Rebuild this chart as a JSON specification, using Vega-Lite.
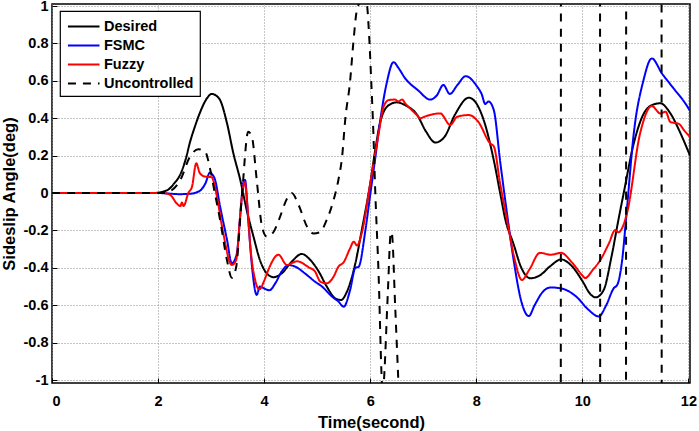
{
  "$schema": "https://vega.github.io/schema/vega-lite/v6.json",
  "description": "Sideslip angle response: Desired, FSMC, Fuzzy and Uncontrolled.",
  "width": 638,
  "height": 379,
  "autosize": "none",
  "padding": {"left": 52, "top": 4, "right": 9, "bottom": 48},
  "background": "white",
  "config": {
    "view": {"stroke": "black", "strokeWidth": 1.5},
    "font": "Liberation Sans",
    "legend": {
      "strokeColor": "black",
      "strokeWidth": 1.2,
      "fillColor": "white",
      "padding": 6,
      "rowPadding": 3,
      "labelOffset": 19,
      "symbolType": "M-0.91,0L2.89,0",
      "symbolSize": 276,
      "symbolStrokeWidth": 2,
      "labelFontSize": 14.5,
      "labelFontWeight": "bold",
      "labelColor": "black"
    }
  },
  "data": {
    "values": [
      {"s":"Desired","t":0,"v":0},{"s":"Desired","t":1.9,"v":0},{"s":"Desired","t":2.0,"v":0.002},{"s":"Desired","t":2.1,"v":0.008},{"s":"Desired","t":2.2,"v":0.02},{"s":"Desired","t":2.3,"v":0.05},{"s":"Desired","t":2.42,"v":0.1},{"s":"Desired","t":2.52,"v":0.18},{"s":"Desired","t":2.6,"v":0.27},{"s":"Desired","t":2.7,"v":0.36},{"s":"Desired","t":2.79,"v":0.43},{"s":"Desired","t":2.92,"v":0.506},{"s":"Desired","t":3.01,"v":0.53},{"s":"Desired","t":3.1,"v":0.52},{"s":"Desired","t":3.17,"v":0.497},{"s":"Desired","t":3.3,"v":0.373},{"s":"Desired","t":3.42,"v":0.212},{"s":"Desired","t":3.55,"v":0.07},{"s":"Desired","t":3.67,"v":-0.09},{"s":"Desired","t":3.8,"v":-0.234},{"s":"Desired","t":3.92,"v":-0.358},{"s":"Desired","t":4.05,"v":-0.43},{"s":"Desired","t":4.18,"v":-0.45},{"s":"Desired","t":4.33,"v":-0.43},{"s":"Desired","t":4.52,"v":-0.367},{"s":"Desired","t":4.71,"v":-0.326},{"s":"Desired","t":4.87,"v":-0.358},{"s":"Desired","t":5.03,"v":-0.42},{"s":"Desired","t":5.18,"v":-0.5},{"s":"Desired","t":5.34,"v":-0.563},{"s":"Desired","t":5.45,"v":-0.572},{"s":"Desired","t":5.56,"v":-0.528},{"s":"Desired","t":5.72,"v":-0.376},{"s":"Desired","t":5.84,"v":-0.2},{"s":"Desired","t":6.0,"v":0.05},{"s":"Desired","t":6.1,"v":0.24},{"s":"Desired","t":6.19,"v":0.38},{"s":"Desired","t":6.35,"v":0.47},{"s":"Desired","t":6.5,"v":0.485},{"s":"Desired","t":6.66,"v":0.47},{"s":"Desired","t":6.88,"v":0.42},{"s":"Desired","t":7.05,"v":0.33},{"s":"Desired","t":7.23,"v":0.27},{"s":"Desired","t":7.4,"v":0.3},{"s":"Desired","t":7.6,"v":0.42},{"s":"Desired","t":7.86,"v":0.51},{"s":"Desired","t":8.0,"v":0.48},{"s":"Desired","t":8.14,"v":0.39},{"s":"Desired","t":8.33,"v":0.176},{"s":"Desired","t":8.45,"v":0.0},{"s":"Desired","t":8.55,"v":-0.144},{"s":"Desired","t":8.7,"v":-0.27},{"s":"Desired","t":8.85,"v":-0.4},{"s":"Desired","t":9.02,"v":-0.456},{"s":"Desired","t":9.2,"v":-0.44},{"s":"Desired","t":9.4,"v":-0.39},{"s":"Desired","t":9.6,"v":-0.355},{"s":"Desired","t":9.8,"v":-0.39},{"s":"Desired","t":10.0,"v":-0.47},{"s":"Desired","t":10.15,"v":-0.54},{"s":"Desired","t":10.25,"v":-0.558},{"s":"Desired","t":10.4,"v":-0.52},{"s":"Desired","t":10.55,"v":-0.34},{"s":"Desired","t":10.68,"v":-0.144},{"s":"Desired","t":10.78,"v":0.0},{"s":"Desired","t":10.97,"v":0.266},{"s":"Desired","t":11.16,"v":0.426},{"s":"Desired","t":11.31,"v":0.47},{"s":"Desired","t":11.47,"v":0.48},{"s":"Desired","t":11.66,"v":0.426},{"s":"Desired","t":11.85,"v":0.32},{"s":"Desired","t":12.03,"v":0.2},

      {"s":"FSMC","t":0,"v":0},{"s":"FSMC","t":2.0,"v":0},{"s":"FSMC","t":2.2,"v":-0.003},{"s":"FSMC","t":2.4,"v":-0.006},{"s":"FSMC","t":2.6,"v":-0.004},{"s":"FSMC","t":2.73,"v":0.004},{"s":"FSMC","t":2.82,"v":0.02},{"s":"FSMC","t":2.89,"v":0.05},{"s":"FSMC","t":2.98,"v":0.11},{"s":"FSMC","t":3.02,"v":0.1},{"s":"FSMC","t":3.07,"v":0.075},{"s":"FSMC","t":3.17,"v":-0.073},{"s":"FSMC","t":3.3,"v":-0.25},{"s":"FSMC","t":3.39,"v":-0.376},{"s":"FSMC","t":3.48,"v":-0.33},{"s":"FSMC","t":3.55,"v":-0.12},{"s":"FSMC","t":3.61,"v":0.06},{"s":"FSMC","t":3.64,"v":0.07},{"s":"FSMC","t":3.7,"v":-0.144},{"s":"FSMC","t":3.77,"v":-0.39},{"s":"FSMC","t":3.86,"v":-0.545},{"s":"FSMC","t":3.92,"v":-0.5},{"s":"FSMC","t":4.0,"v":-0.51},{"s":"FSMC","t":4.1,"v":-0.52},{"s":"FSMC","t":4.21,"v":-0.483},{"s":"FSMC","t":4.33,"v":-0.42},{"s":"FSMC","t":4.46,"v":-0.385},{"s":"FSMC","t":4.59,"v":-0.394},{"s":"FSMC","t":4.77,"v":-0.43},{"s":"FSMC","t":4.96,"v":-0.474},{"s":"FSMC","t":5.09,"v":-0.5},{"s":"FSMC","t":5.28,"v":-0.554},{"s":"FSMC","t":5.4,"v":-0.58},{"s":"FSMC","t":5.5,"v":-0.608},{"s":"FSMC","t":5.62,"v":-0.52},{"s":"FSMC","t":5.72,"v":-0.4},{"s":"FSMC","t":5.78,"v":-0.395},{"s":"FSMC","t":5.91,"v":-0.198},{"s":"FSMC","t":6.0,"v":-0.01},{"s":"FSMC","t":6.09,"v":0.176},{"s":"FSMC","t":6.19,"v":0.39},{"s":"FSMC","t":6.31,"v":0.587},{"s":"FSMC","t":6.44,"v":0.7},{"s":"FSMC","t":6.53,"v":0.67},{"s":"FSMC","t":6.66,"v":0.613},{"s":"FSMC","t":6.9,"v":0.55},{"s":"FSMC","t":7.13,"v":0.5},{"s":"FSMC","t":7.25,"v":0.52},{"s":"FSMC","t":7.38,"v":0.578},{"s":"FSMC","t":7.5,"v":0.53},{"s":"FSMC","t":7.65,"v":0.58},{"s":"FSMC","t":7.8,"v":0.625},{"s":"FSMC","t":8.01,"v":0.572},{"s":"FSMC","t":8.1,"v":0.53},{"s":"FSMC","t":8.17,"v":0.476},{"s":"FSMC","t":8.23,"v":0.49},{"s":"FSMC","t":8.33,"v":0.444},{"s":"FSMC","t":8.45,"v":0.17},{"s":"FSMC","t":8.58,"v":-0.11},{"s":"FSMC","t":8.7,"v":-0.35},{"s":"FSMC","t":8.85,"v":-0.58},{"s":"FSMC","t":8.99,"v":-0.658},{"s":"FSMC","t":9.1,"v":-0.6},{"s":"FSMC","t":9.25,"v":-0.53},{"s":"FSMC","t":9.4,"v":-0.505},{"s":"FSMC","t":9.6,"v":-0.51},{"s":"FSMC","t":9.9,"v":-0.558},{"s":"FSMC","t":10.1,"v":-0.62},{"s":"FSMC","t":10.31,"v":-0.66},{"s":"FSMC","t":10.45,"v":-0.6},{"s":"FSMC","t":10.59,"v":-0.51},{"s":"FSMC","t":10.66,"v":-0.49},{"s":"FSMC","t":10.75,"v":-0.36},{"s":"FSMC","t":10.83,"v":-0.12},{"s":"FSMC","t":10.97,"v":0.32},{"s":"FSMC","t":11.15,"v":0.6},{"s":"FSMC","t":11.31,"v":0.72},{"s":"FSMC","t":11.5,"v":0.64},{"s":"FSMC","t":11.72,"v":0.56},{"s":"FSMC","t":11.94,"v":0.48},{"s":"FSMC","t":12.03,"v":0.44},

      {"s":"Fuzzy","t":0,"v":0},{"s":"Fuzzy","t":2.1,"v":0},{"s":"Fuzzy","t":2.23,"v":-0.01},{"s":"Fuzzy","t":2.35,"v":-0.055},{"s":"Fuzzy","t":2.42,"v":-0.07},{"s":"Fuzzy","t":2.45,"v":-0.05},{"s":"Fuzzy","t":2.48,"v":-0.07},{"s":"Fuzzy","t":2.57,"v":0.0},{"s":"Fuzzy","t":2.64,"v":0.034},{"s":"Fuzzy","t":2.72,"v":0.159},{"s":"Fuzzy","t":2.79,"v":0.105},{"s":"Fuzzy","t":2.89,"v":0.088},{"s":"Fuzzy","t":3.01,"v":0.085},{"s":"Fuzzy","t":3.05,"v":0.06},{"s":"Fuzzy","t":3.11,"v":-0.02},{"s":"Fuzzy","t":3.23,"v":-0.216},{"s":"Fuzzy","t":3.39,"v":-0.385},{"s":"Fuzzy","t":3.47,"v":-0.36},{"s":"Fuzzy","t":3.58,"v":-0.02},{"s":"Fuzzy","t":3.63,"v":0.06},{"s":"Fuzzy","t":3.68,"v":-0.05},{"s":"Fuzzy","t":3.74,"v":-0.287},{"s":"Fuzzy","t":3.83,"v":-0.465},{"s":"Fuzzy","t":3.91,"v":-0.515},{"s":"Fuzzy","t":4.0,"v":-0.47},{"s":"Fuzzy","t":4.08,"v":-0.41},{"s":"Fuzzy","t":4.27,"v":-0.33},{"s":"Fuzzy","t":4.43,"v":-0.385},{"s":"Fuzzy","t":4.56,"v":-0.37},{"s":"Fuzzy","t":4.62,"v":-0.365},{"s":"Fuzzy","t":4.84,"v":-0.397},{"s":"Fuzzy","t":4.96,"v":-0.42},{"s":"Fuzzy","t":5.06,"v":-0.474},{"s":"Fuzzy","t":5.18,"v":-0.483},{"s":"Fuzzy","t":5.31,"v":-0.447},{"s":"Fuzzy","t":5.4,"v":-0.394},{"s":"Fuzzy","t":5.5,"v":-0.37},{"s":"Fuzzy","t":5.62,"v":-0.296},{"s":"Fuzzy","t":5.69,"v":-0.26},{"s":"Fuzzy","t":5.75,"v":-0.28},{"s":"Fuzzy","t":5.84,"v":-0.216},{"s":"Fuzzy","t":6.0,"v":0.05},{"s":"Fuzzy","t":6.16,"v":0.32},{"s":"Fuzzy","t":6.25,"v":0.46},{"s":"Fuzzy","t":6.35,"v":0.497},{"s":"Fuzzy","t":6.47,"v":0.5},{"s":"Fuzzy","t":6.53,"v":0.49},{"s":"Fuzzy","t":6.6,"v":0.5},{"s":"Fuzzy","t":6.66,"v":0.48},{"s":"Fuzzy","t":6.88,"v":0.417},{"s":"Fuzzy","t":6.94,"v":0.4},{"s":"Fuzzy","t":7.04,"v":0.41},{"s":"Fuzzy","t":7.32,"v":0.426},{"s":"Fuzzy","t":7.51,"v":0.364},{"s":"Fuzzy","t":7.64,"v":0.408},{"s":"Fuzzy","t":7.86,"v":0.417},{"s":"Fuzzy","t":8.04,"v":0.38},{"s":"Fuzzy","t":8.26,"v":0.266},{"s":"Fuzzy","t":8.33,"v":0.25},{"s":"Fuzzy","t":8.45,"v":0.05},{"s":"Fuzzy","t":8.58,"v":-0.144},{"s":"Fuzzy","t":8.72,"v":-0.35},{"s":"Fuzzy","t":8.86,"v":-0.465},{"s":"Fuzzy","t":9.0,"v":-0.41},{"s":"Fuzzy","t":9.2,"v":-0.32},{"s":"Fuzzy","t":9.4,"v":-0.33},{"s":"Fuzzy","t":9.6,"v":-0.32},{"s":"Fuzzy","t":9.8,"v":-0.37},{"s":"Fuzzy","t":10.02,"v":-0.447},{"s":"Fuzzy","t":10.05,"v":-0.455},{"s":"Fuzzy","t":10.2,"v":-0.41},{"s":"Fuzzy","t":10.34,"v":-0.358},{"s":"Fuzzy","t":10.5,"v":-0.27},{"s":"Fuzzy","t":10.62,"v":-0.198},{"s":"Fuzzy","t":10.68,"v":-0.21},{"s":"Fuzzy","t":10.84,"v":-0.11},{"s":"Fuzzy","t":11.09,"v":0.32},{"s":"Fuzzy","t":11.31,"v":0.465},{"s":"Fuzzy","t":11.47,"v":0.426},{"s":"Fuzzy","t":11.57,"v":0.435},{"s":"Fuzzy","t":11.66,"v":0.38},{"s":"Fuzzy","t":11.82,"v":0.37},{"s":"Fuzzy","t":11.92,"v":0.335},{"s":"Fuzzy","t":12.03,"v":0.3},

      {"s":"Uncontrolled","t":0,"v":0},{"s":"Uncontrolled","t":2.1,"v":0},{"s":"Uncontrolled","t":2.23,"v":0.01},{"s":"Uncontrolled","t":2.42,"v":0.07},{"s":"Uncontrolled","t":2.6,"v":0.194},{"s":"Uncontrolled","t":2.76,"v":0.234},{"s":"Uncontrolled","t":2.89,"v":0.22},{"s":"Uncontrolled","t":2.98,"v":0.13},{"s":"Uncontrolled","t":3.07,"v":0.0},{"s":"Uncontrolled","t":3.17,"v":-0.144},{"s":"Uncontrolled","t":3.3,"v":-0.36},{"s":"Uncontrolled","t":3.39,"v":-0.453},{"s":"Uncontrolled","t":3.47,"v":-0.4},{"s":"Uncontrolled","t":3.58,"v":-0.02},{"s":"Uncontrolled","t":3.7,"v":0.328},{"s":"Uncontrolled","t":3.77,"v":0.3},{"s":"Uncontrolled","t":3.86,"v":0.07},{"s":"Uncontrolled","t":3.96,"v":-0.18},{"s":"Uncontrolled","t":4.05,"v":-0.233},{"s":"Uncontrolled","t":4.18,"v":-0.207},{"s":"Uncontrolled","t":4.3,"v":-0.127},{"s":"Uncontrolled","t":4.43,"v":-0.03},{"s":"Uncontrolled","t":4.52,"v":0.0},{"s":"Uncontrolled","t":4.65,"v":-0.064},{"s":"Uncontrolled","t":4.81,"v":-0.18},{"s":"Uncontrolled","t":4.93,"v":-0.216},{"s":"Uncontrolled","t":5.05,"v":-0.21},{"s":"Uncontrolled","t":5.18,"v":-0.144},{"s":"Uncontrolled","t":5.31,"v":-0.037},{"s":"Uncontrolled","t":5.4,"v":0.07},{"s":"Uncontrolled","t":5.47,"v":0.194},{"s":"Uncontrolled","t":5.53,"v":0.396},{"s":"Uncontrolled","t":5.62,"v":0.595},{"s":"Uncontrolled","t":5.68,"v":0.797},{"s":"Uncontrolled","t":5.75,"v":0.979},{"s":"Uncontrolled","t":5.84,"v":1.03},{"s":"Uncontrolled","t":5.94,"v":1.0},{"s":"Uncontrolled","t":5.97,"v":0.89},{"s":"Uncontrolled","t":6.02,"v":0.595},{"s":"Uncontrolled","t":6.06,"v":0.32},{"s":"Uncontrolled","t":6.09,"v":0.05},{"s":"Uncontrolled","t":6.16,"v":-0.45},{"s":"Uncontrolled","t":6.22,"v":-1.01},{"s":"Uncontrolled","t":6.24,"v":-1.08},{"s":"Uncontrolled","t":6.26,"v":-1.0},{"s":"Uncontrolled","t":6.33,"v":-0.55},{"s":"Uncontrolled","t":6.39,"v":-0.21},{"s":"Uncontrolled","t":6.41,"v":-0.22},{"s":"Uncontrolled","t":6.47,"v":-0.6},{"s":"Uncontrolled","t":6.53,"v":-1.0},{"s":"Uncontrolled","t":6.56,"v":-1.2},{"s":"Uncontrolled","t":6.6,"v":-3},{"s":"Uncontrolled","t":9.59,"v":-3},{"s":"Uncontrolled","t":9.6,"v":3},{"s":"Uncontrolled","t":10.33,"v":3},{"s":"Uncontrolled","t":10.34,"v":-3},{"s":"Uncontrolled","t":10.82,"v":-3},{"s":"Uncontrolled","t":10.83,"v":3},{"s":"Uncontrolled","t":11.49,"v":3},{"s":"Uncontrolled","t":11.5,"v":-3},{"s":"Uncontrolled","t":12.03,"v":-3}
    ]
  },
  "mark": {"type": "line", "clip": true, "interpolate": "monotone", "strokeWidth": 2},
  "encoding": {
    "x": {
      "field": "t",
      "type": "quantitative",
      "scale": {"domain": [0, 12.03], "nice": false, "zero": false},
      "axis": {
        "title": "Time(second)",
        "values": [0, 2, 4, 6, 8, 10, 12],
        "domain": false,
        "tickSize": -5,
        "tickColor": "black",
        "labelPadding": 16,
        "labelFontSize": 14.5,
        "labelFontWeight": "bold",
        "labelColor": "black",
        "titleFontSize": 16.5,
        "titleFontWeight": "bold",
        "titleColor": "black",
        "titlePadding": 7,
        "gridDash": [1, 2],
        "gridColor": "#8c8c8c",
        "gridOpacity": 1
      }
    },
    "y": {
      "field": "v",
      "type": "quantitative",
      "scale": {"domain": [-1.016, 1.011], "nice": false, "zero": false},
      "axis": {
        "title": "Sideslip Angle(deg)",
        "values": [-1, -0.8, -0.6, -0.4, -0.2, 0, 0.2, 0.4, 0.6, 0.8, 1],
        "format": ".1~f",
        "labelExpr": "replace(datum.label, '−', '-')",
        "domain": false,
        "tickSize": -5,
        "tickColor": "black",
        "labelPadding": 9,
        "labelFontSize": 14.5,
        "labelFontWeight": "bold",
        "labelColor": "black",
        "titleFontSize": 16.5,
        "titleFontWeight": "bold",
        "titleColor": "black",
        "titlePadding": 6,
        "gridDash": [1, 2],
        "gridColor": "#8c8c8c",
        "gridOpacity": 1
      }
    },
    "color": {
      "field": "s",
      "type": "nominal",
      "scale": {
        "domain": ["Desired", "FSMC", "Fuzzy", "Uncontrolled"],
        "range": ["#000000", "#0000ff", "#ff0000", "#000000"]
      },
      "legend": {"title": null, "orient": "none", "legendX": 8, "legendY": 7}
    },
    "strokeDash": {
      "field": "s",
      "type": "nominal",
      "scale": {
        "domain": ["Desired", "FSMC", "Fuzzy", "Uncontrolled"],
        "range": [[1, 0], [1, 0], [1, 0], [8, 7]]
      },
      "legend": {"title": null, "orient": "none", "legendX": 8, "legendY": 7}
    }
  }
}
